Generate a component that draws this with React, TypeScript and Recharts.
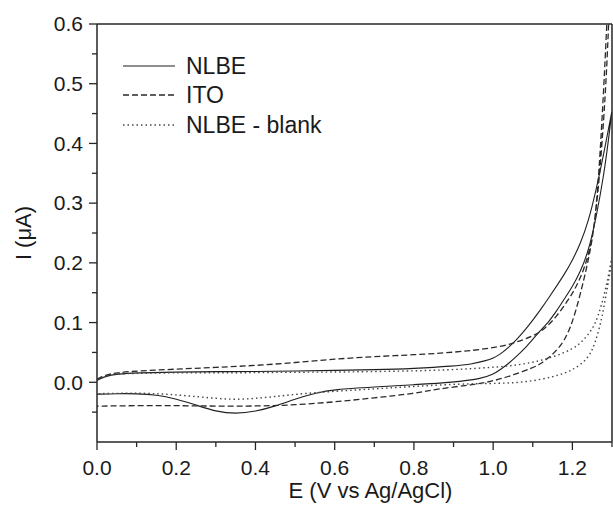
import { LineChart, Line, XAxis, YAxis, ReferenceLine, Legend } from "recharts"

// potential (V) / current (uA) pairs, anodic sweep then return sweep
const nlbeForward: [number, number][] = [
  [0.0, 0.003], [0.02, 0.01], [0.05, 0.014], [0.1, 0.016], [0.2, 0.017], [0.3, 0.018],
  [0.4, 0.018], [0.5, 0.019], [0.6, 0.02], [0.7, 0.021], [0.8, 0.023], [0.9, 0.027],
  [0.95, 0.031], [0.98, 0.036], [1.0, 0.04], [1.02, 0.048], [1.04, 0.059], [1.06, 0.072],
  [1.08, 0.087], [1.1, 0.104], [1.12, 0.122], [1.14, 0.141], [1.16, 0.161], [1.18, 0.181],
  [1.2, 0.204], [1.22, 0.232], [1.24, 0.268], [1.26, 0.322], [1.28, 0.385], [1.3, 0.455],
]
const nlbeReturn: [number, number][] = [
  [1.3, 0.455], [1.29, 0.4], [1.28, 0.35], [1.26, 0.275], [1.24, 0.218], [1.22, 0.185],
  [1.2, 0.16], [1.18, 0.14], [1.16, 0.119], [1.14, 0.101], [1.12, 0.087], [1.1, 0.072],
  [1.08, 0.057], [1.06, 0.044], [1.04, 0.032], [1.02, 0.022], [1.0, 0.013], [0.97, 0.006],
  [0.9, 0.0], [0.8, -0.004], [0.7, -0.008], [0.6, -0.012], [0.55, -0.018], [0.5, -0.028],
  [0.45, -0.04], [0.4, -0.049], [0.35, -0.053], [0.3, -0.049], [0.25, -0.038], [0.2, -0.028],
  [0.15, -0.021], [0.1, -0.019], [0.05, -0.019], [0.0, -0.02],
]

const itoForward: [number, number][] = [
  [0.0, 0.005], [0.02, 0.012], [0.05, 0.016], [0.1, 0.019], [0.2, 0.022], [0.3, 0.025],
  [0.4, 0.028], [0.5, 0.033], [0.6, 0.039], [0.7, 0.043], [0.8, 0.046], [0.9, 0.05],
  [1.0, 0.057], [1.05, 0.065], [1.1, 0.077], [1.13, 0.089], [1.16, 0.11], [1.19, 0.138],
  [1.21, 0.16], [1.23, 0.19], [1.245, 0.225], [1.255, 0.26], [1.265, 0.33], [1.275, 0.44],
  [1.285, 0.57], [1.295, 0.72],
]
const itoReturn: [number, number][] = [
  [1.3, 0.76], [1.293, 0.62], [1.285, 0.5], [1.275, 0.4], [1.265, 0.32], [1.255, 0.26],
  [1.245, 0.22], [1.232, 0.18], [1.22, 0.148], [1.208, 0.118], [1.195, 0.092], [1.18, 0.07],
  [1.16, 0.053], [1.14, 0.041], [1.12, 0.031], [1.1, 0.024], [1.05, 0.012], [1.0, 0.002],
  [0.95, -0.004], [0.86, -0.011], [0.8, -0.019], [0.7, -0.026], [0.6, -0.033], [0.5, -0.038],
  [0.4, -0.04], [0.3, -0.04], [0.2, -0.039], [0.1, -0.039], [0.0, -0.04],
]

const blankForward: [number, number][] = [
  [0.0, 0.005], [0.02, 0.011], [0.05, 0.014], [0.1, 0.015], [0.2, 0.016], [0.3, 0.016],
  [0.4, 0.016], [0.5, 0.017], [0.6, 0.017], [0.7, 0.018], [0.8, 0.019], [0.9, 0.021],
  [1.0, 0.025], [1.05, 0.028], [1.1, 0.033], [1.15, 0.042], [1.2, 0.055], [1.225, 0.068],
  [1.25, 0.088], [1.265, 0.11], [1.28, 0.145], [1.29, 0.175], [1.3, 0.21],
]
const blankReturn: [number, number][] = [
  [1.3, 0.21], [1.296, 0.188], [1.29, 0.165], [1.284, 0.142], [1.275, 0.11], [1.267, 0.088],
  [1.258, 0.068], [1.25, 0.054], [1.24, 0.042], [1.22, 0.029], [1.2, 0.021], [1.18, 0.015],
  [1.15, 0.009], [1.1, 0.002], [1.05, -0.001], [1.0, -0.002], [0.9, -0.003], [0.8, -0.007],
  [0.7, -0.011], [0.6, -0.015], [0.5, -0.02], [0.45, -0.024], [0.4, -0.027], [0.35, -0.029],
  [0.3, -0.027], [0.25, -0.024], [0.2, -0.021], [0.15, -0.019], [0.1, -0.018], [0.0, -0.019],
]

const xTicks = [0, 0.1, 0.2, 0.3, 0.4, 0.5, 0.6, 0.7, 0.8, 0.9, 1.0, 1.1, 1.2, 1.3]
const yTicks = [-0.05, 0, 0.05, 0.1, 0.15, 0.2, 0.25, 0.3, 0.35, 0.4, 0.45, 0.5, 0.55, 0.6]

const FONT = "'Liberation Sans', Arial, sans-serif"
const INK = "#262626"

const toPoints = (a: [number, number][], b: [number, number][]) =>
  [...a, ...b].map(([e, i]) => ({ e, i }))

const series = [
  { name: "NLBE", data: toPoints(nlbeForward, nlbeReturn), dash: undefined, color: "#1f1f1f", width: 1.1 },
  { name: "ITO", data: toPoints(itoForward, itoReturn), dash: "6 3", color: "#2a2a2a", width: 1.3 },
  { name: "NLBE - blank", data: toPoints(blankForward, blankReturn), dash: "1.5 3", color: "#444", width: 1.4 },
]

const XTick = ({ x, y, payload }: any) => {
  const v = payload.value
  const major = Math.round(v * 10) % 2 === 0
  return (
    <g>
      <line x1={x} x2={x} y1={y} y2={y + (major ? 8 : 5)} stroke={INK} strokeWidth={1.3} />
      {major && (
        <text x={x} y={y + 33} textAnchor="middle" fontSize={21} fontFamily={FONT} fill="#1a1a1a">
          {v.toFixed(1)}
        </text>
      )}
    </g>
  )
}

const YTick = ({ x, y, payload }: any) => {
  const v = payload.value
  const major = Math.round(v * 100) % 10 === 0
  return (
    <g>
      <line x1={x} x2={x - (major ? 8 : 5)} y1={y} y2={y} stroke={INK} strokeWidth={1.3} />
      {major && (
        <text x={x - 14} y={y} dy="0.35em" textAnchor="end" fontSize={21} fontFamily={FONT} fill="#1a1a1a">
          {v.toFixed(1)}
        </text>
      )}
    </g>
  )
}

const renderLegend = () => (
  <div style={{ fontFamily: FONT, fontSize: 23, color: "#1a1a1a" }}>
    {series.map((s) => (
      <div key={s.name} style={{ display: "flex", alignItems: "center", height: 29.5 }}>
        <svg width={52} height={10} style={{ marginRight: 11 }}>
          <line x1={0} x2={52} y1={5} y2={5} stroke={s.color} strokeWidth={s.width} strokeDasharray={s.dash} />
        </svg>
        <span style={{ lineHeight: "24px" }}>{s.name}</span>
      </div>
    ))}
  </div>
)

export default function App() {
  return (
    <div style={{ position: "absolute", left: 0, top: 0, width: 613, height: 510, background: "#fff" }}>
      <LineChart width={613} height={510} margin={{ top: 24, right: 1, bottom: 0, left: 0 }}>
        <XAxis
          type="number"
          dataKey="e"
          domain={[0, 1.3]}
          ticks={xTicks}
          interval={0}
          allowDataOverflow
          height={68}
          tickSize={0}
          tickMargin={0}
          tickLine={false}
          tick={XTick}
          axisLine={{ stroke: INK, strokeWidth: 1.5 }}
          label={({ viewBox }: any) => (
            <text
              x={viewBox.x + viewBox.width / 2 + 16}
              y={viewBox.y + 56}
              textAnchor="middle"
              fontSize={22}
              fontFamily={FONT}
              fill="#1a1a1a"
            >
              E (V vs Ag/AgCl)
            </text>
          )}
        />
        <YAxis
          type="number"
          dataKey="i"
          domain={[-0.1, 0.6]}
          ticks={yTicks}
          interval={0}
          allowDataOverflow
          width={97}
          tickSize={0}
          tickMargin={0}
          tickLine={false}
          tick={YTick}
          axisLine={{ stroke: INK, strokeWidth: 1.5 }}
          label={({ viewBox }: any) => (
            <text
              x={23}
              y={viewBox.y + viewBox.height / 2}
              transform={`rotate(-90 23 ${viewBox.y + viewBox.height / 2})`}
              textAnchor="middle"
              dy="0.35em"
              fontSize={22}
              fontFamily={FONT}
              fill="#1a1a1a"
            >
              I (μA)
            </text>
          )}
        />
        <ReferenceLine y={0.6} stroke={INK} strokeWidth={1.5} />
        <ReferenceLine x={1.3} stroke={INK} strokeWidth={1.5} />
        {series.map((s) => (
          <Line
            key={s.name}
            name={s.name}
            data={s.data}
            dataKey="i"
            type="basis"
            stroke={s.color}
            strokeWidth={s.width}
            strokeDasharray={s.dash}
            dot={false}
            activeDot={false}
            isAnimationActive={false}
          />
        ))}
        <Legend
          layout="vertical"
          align="center"
          verticalAlign="middle"
          wrapperStyle={{ left: 123, top: 51, width: 260 }}
          content={renderLegend}
        />
      </LineChart>
    </div>
  )
}
